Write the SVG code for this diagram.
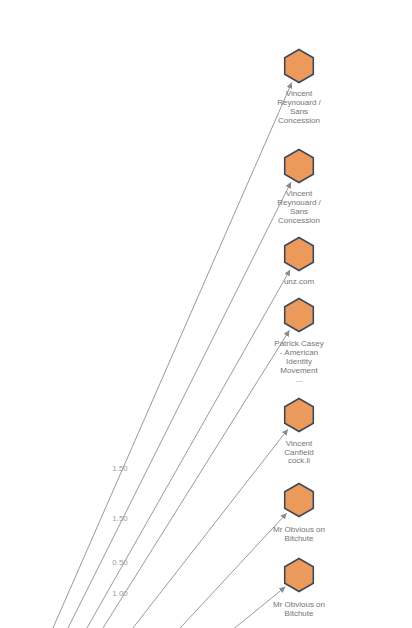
<svg xmlns="http://www.w3.org/2000/svg" width="412" height="628" viewBox="0 0 412 628">
<style>
.edge{stroke:#9a9a9a;stroke-width:1;fill:none}
.elabel{font-family:"Liberation Sans",Arial,sans-serif;font-size:8px;fill:#a0a0a0;text-anchor:middle}
.nlabel{font-family:"Liberation Sans",Arial,sans-serif;font-size:8px;fill:#757575;text-anchor:middle}
.hex{fill:#EC9A5B;stroke:#3E4A5A;stroke-width:1.6}
</style>
<defs>
<marker id="arr" markerUnits="userSpaceOnUse" markerWidth="7" markerHeight="6" refX="6" refY="3" orient="auto">
<path d="M0,0 L6,3 L0,6 z" fill="#8a8a8a"/>
</marker>
<polygon id="hx" points="0,-16.5 14.29,-8.25 14.29,8.25 0,16.5 -14.29,8.25 -14.29,-8.25"/>
</defs>
<rect width="412" height="628" fill="#ffffff"/>
<g id="edges">
<line class="edge" x1="47.7" y1="640" x2="291.8" y2="82.5" marker-end="url(#arr)"/>
<line class="edge" x1="62" y1="640" x2="291" y2="182.1" marker-end="url(#arr)"/>
<line class="edge" x1="80.2" y1="640" x2="290.1" y2="269.7" marker-end="url(#arr)"/>
<line class="edge" x1="95.5" y1="640" x2="289.4" y2="330.3" marker-end="url(#arr)"/>
<line class="edge" x1="123.6" y1="640" x2="287.9" y2="429.2" marker-end="url(#arr)"/>
<line class="edge" x1="169" y1="640" x2="286.7" y2="513.2" marker-end="url(#arr)"/>
<line class="edge" x1="220" y1="640" x2="285.4" y2="586.8" marker-end="url(#arr)"/>
<text class="elabel" x="120" y="471">1.50</text>
<text class="elabel" x="120" y="521">1.50</text>
<text class="elabel" x="120" y="565">0.50</text>
<text class="elabel" x="120" y="596">1.00</text>
</g>
<g id="n1">
<use href="#hx" class="hex" x="299" y="66"/>
<text class="nlabel" x="299" y="96">Vincent</text>
<text class="nlabel" x="299" y="105">Reynouard /</text>
<text class="nlabel" x="299" y="114">Sans</text>
<text class="nlabel" x="299" y="123">Concession</text>
</g>
<g id="n2">
<use href="#hx" class="hex" x="299" y="166"/>
<text class="nlabel" x="299" y="196">Vincent</text>
<text class="nlabel" x="299" y="205">Reynouard /</text>
<text class="nlabel" x="299" y="214">Sans</text>
<text class="nlabel" x="299" y="223">Concession</text>
</g>
<g id="n3">
<use href="#hx" class="hex" x="299" y="254"/>
<text class="nlabel" x="299" y="284">unz.com</text>
</g>
<g id="n4">
<use href="#hx" class="hex" x="299" y="315"/>
<text class="nlabel" x="299" y="346">Patrick Casey</text>
<text class="nlabel" x="299" y="355">- American</text>
<text class="nlabel" x="299" y="364">Identity</text>
<text class="nlabel" x="299" y="373">Movement</text>
<text class="nlabel" x="299" y="382">...</text>
</g>
<g id="n5">
<use href="#hx" class="hex" x="299" y="415"/>
<text class="nlabel" x="299" y="446">Vincent</text>
<text class="nlabel" x="299" y="455">Canfield</text>
<text class="nlabel" x="299" y="463">cock.li</text>
</g>
<g id="n6">
<use href="#hx" class="hex" x="299" y="500"/>
<text class="nlabel" x="299" y="532">Mr Obvious on</text>
<text class="nlabel" x="299" y="541">Bitchute</text>
</g>
<g id="n7">
<use href="#hx" class="hex" x="299" y="575"/>
<text class="nlabel" x="299" y="607">Mr Obvious on</text>
<text class="nlabel" x="299" y="616">Bitchute</text>
</g>
</svg>
